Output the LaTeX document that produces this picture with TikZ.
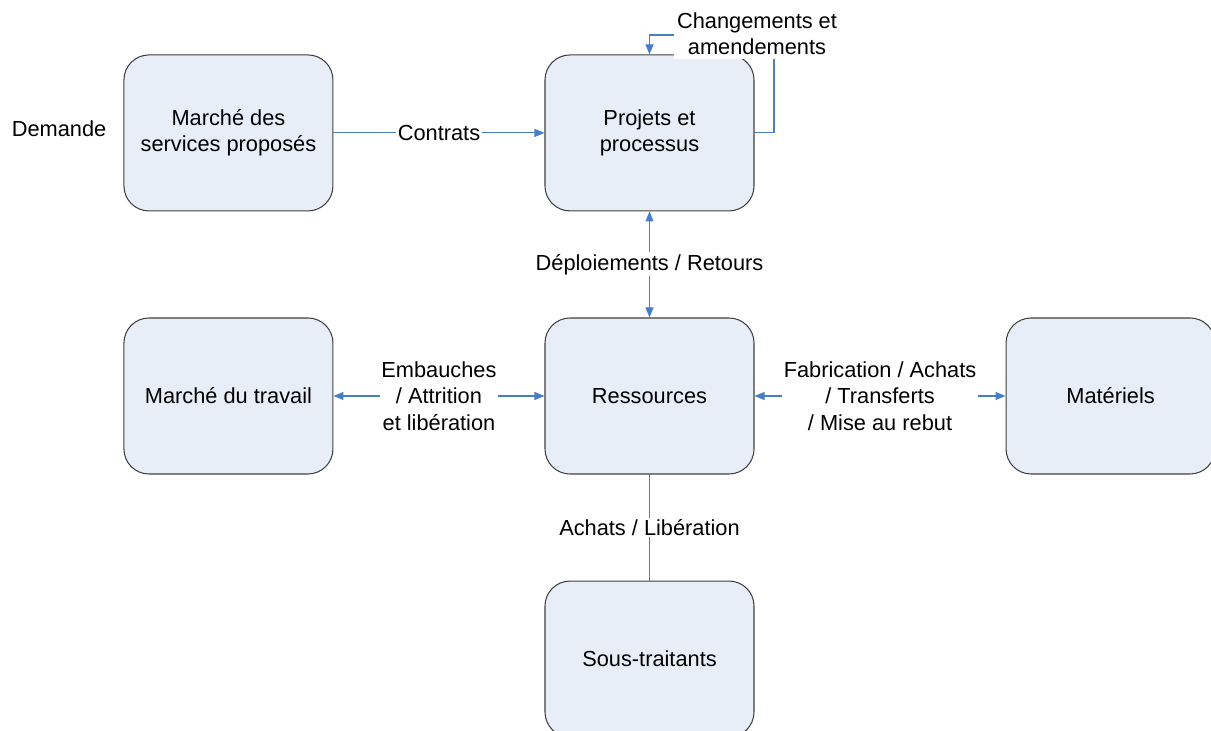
\documentclass[tikz,border=0pt]{standalone}
\usepackage{fontspec}
\setmainfont{Liberation Sans}
\usetikzlibrary{arrows.meta, positioning}
\definecolor{boxfill}{HTML}{E8EEF8}
\definecolor{boxline}{HTML}{404040}
\definecolor{linkblue}{HTML}{4A7EC4}
\tikzset{
	box/.style={
		rectangle,
		rounded corners=0.5cm,
		minimum width=4.18cm,
		minimum height=3.12cm,
		text centered,
		align=center,
		draw=boxline,
		line width=0.6pt,
		fill=boxfill,
		font=\fontsize{12.4}{15}\selectfont
	},
	lbl/.style={
		align=center,
		fill=white,
		text=black,
		inner sep=1pt,
		font=\fontsize{12.4}{15}\selectfont
	},
	arrow/.style={linkblue, line width=0.6pt, -{Triangle[length=0.2cm, width=0.16cm]}},
	twoway/.style={linkblue, line width=0.6pt, {Triangle[length=0.2cm, width=0.16cm]}-{Triangle[length=0.2cm, width=0.16cm]}},
	link/.style={linkblue, line width=0.6pt}
}

\begin{document}
\begin{tikzpicture}[node distance=2.12cm]
	\useasboundingbox (0,0) rectangle (24.22,14.62);
	\node (ress) [box] at (12.99,6.70) {Ressources};
	\node (projets) [box, above=of ress] {Projets et\\processus};
	\node (services) [box, left=4.22cm of projets] {Marché des\\services proposés};
	\node (travail) [box, left=4.22cm of ress] {Marché du travail};
	\node (materiels) [box, right=5.02cm of ress] {Matériels};
	\node (soustraitants) [box, below=of ress] {Sous-traitants};
	\node (demande) [lbl, left=0.3cm of services.west, yshift=0.08cm] {Demande};

	\draw [arrow] (services) -- node [lbl] {Contrats} (projets);
	\draw [twoway] (projets) -- node [lbl] {Déploiements / Retours} (ress);
	\draw [twoway] (travail) -- node [lbl] {Embauches\\/ Attrition\\et libération} (ress);
	\draw [twoway] (ress) -- node [lbl] {Fabrication / Achats\\/ Transferts\\/ Mise au rebut} (materiels);
	\draw [link] (ress) -- node [lbl] {Achats / Libération} (soustraitants);

	% boucle des changements
	\coordinate (loop) at (15.48,13.92);
	\draw [arrow] (projets.east) -| (loop) -| (projets.north);
	\node (chg) [lbl, inner sep=2pt] at (15.14,13.94) {Changements et\\amendements};
\end{tikzpicture}
\end{document}
